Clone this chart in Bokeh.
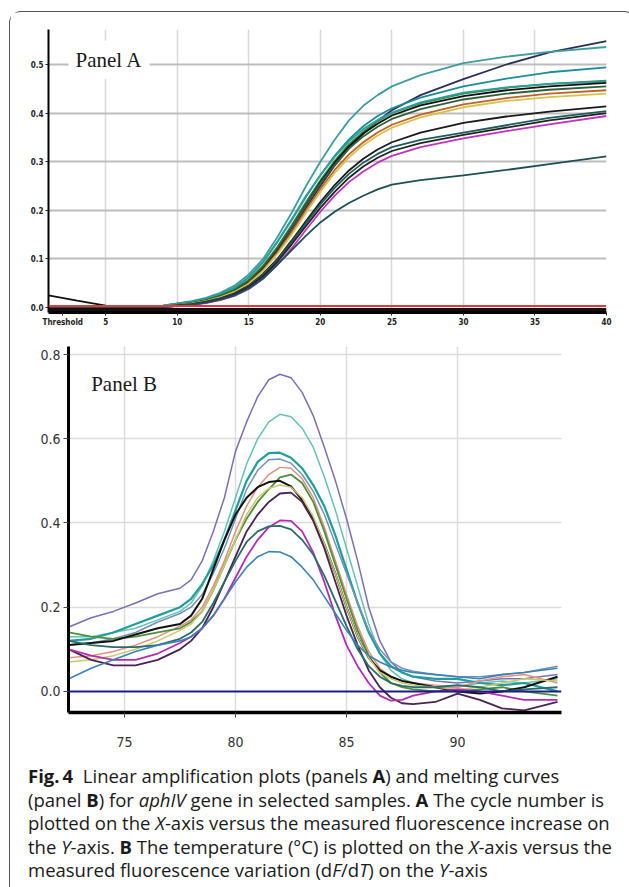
from bokeh.plotting import figure
from bokeh.models import Label, Div, FixedTicker, PrintfTickFormatter, Span
from bokeh.layouts import column
from bokeh.embed import file_html
from bokeh.resources import INLINE

# ---------------- Panel A data (cycle vs fluorescence) ----------------
cycles = [1, 3, 5, 7, 9, 11, 12, 13, 14, 15, 16, 17, 18, 19, 20, 21, 22, 23, 24, 25, 27, 30, 33, 36, 40]

a_navy    = [0.001, 0.0, -0.002, 0.0, 0.002, 0.008, 0.014, 0.022, 0.033, 0.05, 0.078, 0.115, 0.158, 0.205, 0.25, 0.292, 0.328, 0.358, 0.384, 0.406, 0.437, 0.47, 0.5, 0.525, 0.548]
a_teal1   = [0.0, 0.0, 0.0, 0.001, 0.004, 0.013, 0.02, 0.03, 0.045, 0.068, 0.1, 0.145, 0.195, 0.25, 0.3, 0.345, 0.385, 0.415, 0.437, 0.455, 0.478, 0.503, 0.516, 0.526, 0.536]
a_teal2   = [0.0, 0.0, 0.0, 0.001, 0.004, 0.012, 0.018, 0.027, 0.04, 0.062, 0.093, 0.135, 0.18, 0.228, 0.272, 0.312, 0.346, 0.373, 0.394, 0.41, 0.432, 0.455, 0.471, 0.484, 0.494]
a_green   = [0.0, 0.0, 0.0, 0.001, 0.003, 0.01, 0.016, 0.025, 0.037, 0.057, 0.086, 0.125, 0.17, 0.217, 0.262, 0.302, 0.336, 0.362, 0.383, 0.4, 0.42, 0.44, 0.452, 0.46, 0.467]
a_teal3   = [0.0, 0.0, 0.0, 0.001, 0.004, 0.012, 0.018, 0.028, 0.041, 0.063, 0.094, 0.136, 0.182, 0.23, 0.272, 0.31, 0.342, 0.367, 0.386, 0.401, 0.422, 0.442, 0.453, 0.46, 0.465]
a_black1  = [0.025, 0.014, 0.004, 0.0, 0.001, 0.008, 0.014, 0.022, 0.034, 0.053, 0.082, 0.12, 0.165, 0.212, 0.258, 0.298, 0.332, 0.358, 0.378, 0.395, 0.416, 0.435, 0.447, 0.455, 0.462]
a_dkgreen = [0.0, 0.0, 0.0, 0.0, 0.002, 0.009, 0.015, 0.024, 0.036, 0.055, 0.084, 0.122, 0.166, 0.212, 0.256, 0.294, 0.327, 0.352, 0.372, 0.388, 0.408, 0.428, 0.44, 0.448, 0.455]
a_orange  = [0.0, 0.0, 0.0, 0.0, 0.002, 0.008, 0.013, 0.021, 0.032, 0.05, 0.077, 0.113, 0.155, 0.2, 0.244, 0.283, 0.315, 0.34, 0.36, 0.376, 0.397, 0.418, 0.431, 0.44, 0.447]
a_yellow  = [0.0, 0.0, 0.0, 0.0, 0.002, 0.008, 0.013, 0.021, 0.032, 0.049, 0.075, 0.11, 0.15, 0.195, 0.238, 0.277, 0.309, 0.334, 0.354, 0.37, 0.391, 0.412, 0.425, 0.433, 0.44]
a_black2  = [0.0, 0.0, 0.0, 0.0, 0.002, 0.007, 0.012, 0.019, 0.029, 0.045, 0.069, 0.1, 0.138, 0.178, 0.217, 0.252, 0.282, 0.306, 0.325, 0.34, 0.36, 0.38, 0.393, 0.403, 0.414]
a_dkteal  = [0.0, 0.0, 0.0, 0.0, 0.002, 0.007, 0.011, 0.018, 0.028, 0.044, 0.067, 0.098, 0.135, 0.174, 0.212, 0.246, 0.275, 0.298, 0.316, 0.33, 0.345, 0.36, 0.375, 0.39, 0.404]
a_black3  = [0.0, 0.0, 0.0, 0.0, 0.001, 0.006, 0.01, 0.017, 0.027, 0.042, 0.064, 0.094, 0.13, 0.168, 0.205, 0.238, 0.267, 0.29, 0.308, 0.322, 0.338, 0.355, 0.37, 0.385, 0.40]
a_magenta = [0.0, 0.0, 0.0, 0.0, 0.001, 0.005, 0.009, 0.015, 0.024, 0.038, 0.059, 0.088, 0.122, 0.16, 0.197, 0.23, 0.258, 0.28, 0.298, 0.312, 0.33, 0.348, 0.363, 0.377, 0.394]
a_lowest  = [0.0, 0.0, 0.0, 0.0, 0.001, 0.006, 0.01, 0.016, 0.025, 0.039, 0.06, 0.088, 0.118, 0.148, 0.175, 0.197, 0.215, 0.23, 0.243, 0.253, 0.262, 0.272, 0.283, 0.295, 0.311]

a_series = [a_navy, a_teal1, a_teal2, a_green, a_teal3, a_black1, a_dkgreen, a_orange,
            a_yellow, a_black2, a_dkteal, a_black3, a_magenta, a_lowest]
a_colors = ["#2b2d5c", "#3f9e9b", "#1b8d99", "#3d8c3f", "#2a9f9f", "#111111", "#2f5f3a", "#c0622a",
            "#d8c24a", "#1a1a1a", "#1f5c5c", "#222222", "#c033c0", "#1d4f55"]

threshold_level = 0.003
negative_level = -0.004
a_xticks = [5, 10, 15, 20, 25, 30, 35, 40]
a_yticks = [0.0, 0.1, 0.2, 0.3, 0.4, 0.5]
threshold_tick = 2
threshold_text = "Threshold"

# ---------------- Panel B data (temperature vs dF/dT) ----------------
temps = [72.5, 73.5, 74.5, 75.5, 76.5, 77.5, 78, 78.5, 79, 79.5, 80, 80.5, 81, 81.5, 82, 82.5,
         83, 83.5, 84, 84.5, 85, 85.5, 86, 86.5, 87, 87.5, 88, 89, 90, 91, 92, 93, 94.5]

b_purple  = [0.153, 0.175, 0.19, 0.21, 0.232, 0.245, 0.265, 0.31, 0.38, 0.46, 0.57, 0.64, 0.70, 0.74, 0.753, 0.745,
             0.71, 0.655, 0.58, 0.50, 0.41, 0.31, 0.20, 0.12, 0.07, 0.045, 0.035, 0.025, 0.02, 0.025, 0.03, 0.03, 0.04]
b_ltteal  = [0.13, 0.13, 0.14, 0.15, 0.17, 0.19, 0.21, 0.25, 0.31, 0.38, 0.46, 0.54, 0.60, 0.64, 0.658, 0.652,
             0.625, 0.58, 0.51, 0.43, 0.34, 0.25, 0.16, 0.09, 0.05, 0.03, 0.02, 0.01, 0.01, 0.02, 0.025, 0.02, 0.03]
b_teal    = [0.12, 0.125, 0.14, 0.16, 0.18, 0.20, 0.22, 0.255, 0.30, 0.36, 0.43, 0.50, 0.545, 0.566, 0.567, 0.555,
             0.53, 0.49, 0.44, 0.37, 0.29, 0.21, 0.14, 0.09, 0.06, 0.045, 0.035, 0.03, 0.03, 0.02, 0.015, 0.02, 0.0]
b_grayblu = [0.11, 0.115, 0.125, 0.14, 0.165, 0.185, 0.20, 0.23, 0.28, 0.34, 0.41, 0.48, 0.525, 0.55, 0.552, 0.542,
             0.515, 0.475, 0.42, 0.35, 0.28, 0.21, 0.145, 0.10, 0.07, 0.055, 0.048, 0.04, 0.035, 0.035, 0.04, 0.045, 0.06]
b_salmon  = [0.08, 0.085, 0.095, 0.11, 0.13, 0.155, 0.17, 0.20, 0.25, 0.31, 0.38, 0.44, 0.485, 0.515, 0.532, 0.53,
             0.505, 0.46, 0.39, 0.31, 0.23, 0.155, 0.095, 0.055, 0.035, 0.025, 0.02, 0.015, 0.01, 0.025, 0.035, 0.04, 0.02]
b_green   = [0.14, 0.13, 0.125, 0.13, 0.14, 0.15, 0.165, 0.19, 0.24, 0.30, 0.36, 0.41, 0.45, 0.48, 0.508, 0.515,
             0.495, 0.45, 0.38, 0.30, 0.22, 0.145, 0.085, 0.045, 0.02, 0.01, 0.005, 0.0, 0.0, 0.005, 0.01, 0.0, -0.01]
b_black   = [0.11, 0.115, 0.12, 0.135, 0.15, 0.16, 0.18, 0.22, 0.29, 0.36, 0.42, 0.46, 0.485, 0.497, 0.50, 0.487,
             0.455, 0.41, 0.35, 0.28, 0.20, 0.13, 0.08, 0.05, 0.035, 0.025, 0.02, 0.01, 0.0, -0.005, 0.0, 0.01, 0.035]
b_yellow  = [0.07, 0.075, 0.085, 0.10, 0.12, 0.145, 0.16, 0.19, 0.24, 0.30, 0.36, 0.42, 0.46, 0.482, 0.49, 0.485,
             0.46, 0.415, 0.35, 0.28, 0.20, 0.13, 0.08, 0.045, 0.03, 0.02, 0.015, 0.01, 0.005, 0.01, 0.02, 0.03, 0.025]
b_dkpurp  = [0.10, 0.075, 0.062, 0.062, 0.075, 0.10, 0.12, 0.15, 0.20, 0.26, 0.32, 0.38, 0.42, 0.45, 0.47, 0.472,
             0.45, 0.405, 0.34, 0.26, 0.18, 0.11, 0.05, 0.01, -0.015, -0.028, -0.03, -0.025, -0.005, -0.02, -0.04, -0.045, -0.025]
b_magenta = [0.10, 0.085, 0.075, 0.075, 0.09, 0.115, 0.13, 0.15, 0.18, 0.22, 0.27, 0.32, 0.36, 0.39, 0.406, 0.405,
             0.38, 0.33, 0.26, 0.18, 0.11, 0.06, 0.02, -0.01, -0.022, -0.02, -0.01, 0.0, 0.005, 0.0, -0.01, -0.02, -0.02]
b_dkteal  = [0.12, 0.11, 0.105, 0.105, 0.11, 0.125, 0.14, 0.165, 0.21, 0.26, 0.31, 0.355, 0.38, 0.392, 0.393, 0.385,
             0.36, 0.325, 0.275, 0.215, 0.155, 0.10, 0.06, 0.035, 0.02, 0.013, 0.01, 0.01, 0.015, 0.01, 0.0, 0.005, 0.01]
b_blue    = [0.03, 0.055, 0.075, 0.095, 0.11, 0.12, 0.13, 0.15, 0.18, 0.22, 0.26, 0.295, 0.32, 0.332, 0.331, 0.32,
             0.295, 0.265, 0.225, 0.185, 0.145, 0.11, 0.085, 0.07, 0.058, 0.05, 0.045, 0.04, 0.035, 0.03, 0.04, 0.045, 0.055]

b_series = [b_purple, b_ltteal, b_teal, b_grayblu, b_salmon, b_green, b_black, b_yellow,
            b_dkpurp, b_magenta, b_dkteal, b_blue]
b_colors = ["#7b6fb5", "#66c2b5", "#1f9e9e", "#7392b3", "#e0937d", "#4e8f3a", "#111111", "#c9c86a",
            "#4b2352", "#b52bb5", "#2a6b6b", "#3a82b8"]
b_widths = [1.5, 1.5, 2.2, 1.5, 1.5, 1.8, 2.0, 1.5, 1.8, 1.8, 1.8, 1.6]
b_xticks = [75, 80, 85, 90]
b_yticks = [0.0, 0.2, 0.4, 0.6, 0.8]

# ---------------- Panel A figure ----------------
pA = figure(width=615, height=317, x_range=(1, 40), y_range=(-0.0103, 0.572),
            output_backend="svg", toolbar_location=None, frame_align=False,
            min_border_left=38, min_border_right=19, min_border_top=17, min_border_bottom=17)
pA.outline_line_color = None
pA.xaxis.ticker = FixedTicker(ticks=[threshold_tick] + a_xticks)
pA.xaxis.major_label_overrides = {threshold_tick: threshold_text}
pA.yaxis.ticker = FixedTicker(ticks=a_yticks)
pA.yaxis.formatter = PrintfTickFormatter(format="%.1f")
pA.xgrid.ticker = FixedTicker(ticks=a_xticks)
pA.ygrid.ticker = FixedTicker(ticks=a_yticks[1:])
pA.xgrid.grid_line_color = "#d8d8d8"
pA.xgrid.grid_line_width = 1.5
pA.ygrid.grid_line_color = "#bdbdbd"
pA.ygrid.grid_line_width = 2
for ax in (pA.xaxis[0], pA.yaxis[0]):
    ax.axis_line_color = "black"
    ax.major_tick_line_color = "#222222"
    ax.major_tick_out = 3
    ax.major_tick_in = 0
    ax.minor_tick_line_color = None
    ax.major_label_text_font = "DejaVu Sans Condensed"
    ax.major_label_text_font_style = "bold"
    ax.major_label_text_font_size = "8px"
    ax.major_label_text_color = "#222222"
    ax.major_label_standoff = 2
pA.yaxis.axis_line_width = 2
pA.xaxis.axis_line_width = 3

for ys, c in zip(a_series, a_colors):
    pA.line(cycles, ys, line_color=c, line_width=1.8)

pA.add_layout(Span(location=threshold_level, dimension="width", line_color="#e03a3a", line_width=2))
pA.add_layout(Span(location=negative_level, dimension="width", line_color="#111111", line_width=3))

pA.add_layout(Label(x=2.4, y=0.51, text="Panel A", text_font="Liberation Serif",
                    text_font_size="21px", text_color="#1a1a1a", text_baseline="middle",
                    background_fill_color="white", padding=7))

# ---------------- Panel B figure ----------------
pB = figure(width=615, height=420, x_range=(72.48, 94.68), y_range=(-0.05, 0.819),
            output_backend="svg", toolbar_location=None, frame_align=False,
            min_border_left=58, min_border_right=64, min_border_top=17, min_border_bottom=36)
pB.outline_line_color = None
pB.xaxis.ticker = FixedTicker(ticks=b_xticks)
pB.yaxis.ticker = FixedTicker(ticks=b_yticks)
pB.yaxis.formatter = PrintfTickFormatter(format="%.1f")
pB.xgrid.ticker = FixedTicker(ticks=b_xticks)
pB.ygrid.ticker = FixedTicker(ticks=b_yticks[1:])
pB.xgrid.grid_line_color = "#dcdcdc"
pB.ygrid.grid_line_color = "#dcdcdc"
pB.xgrid.grid_line_width = 1.5
pB.ygrid.grid_line_width = 1.5
for ax in (pB.xaxis[0], pB.yaxis[0]):
    ax.axis_line_color = "black"
    ax.major_tick_line_color = "#444444"
    ax.major_tick_out = 5
    ax.major_tick_in = 0
    ax.minor_tick_line_color = None
    ax.major_label_text_font = "DejaVu Sans Condensed"
    ax.major_label_text_font_size = "14px"
    ax.major_label_text_color = "#333333"
pB.yaxis.axis_line_width = 3
pB.xaxis.axis_line_width = 3.5
pB.yaxis.major_label_standoff = 3
pB.xaxis.major_label_standoff = 19

pB.add_layout(Span(location=0.0, dimension="width", line_color="#1c1c8a", line_width=2))
for ys, c, w in zip(b_series, b_colors, b_widths):
    pB.line(temps, ys, line_color=c, line_width=w)

pB.add_layout(Label(x=73.5, y=0.729, text="Panel B", text_font="Liberation Serif",
                    text_font_size="21px", text_color="#1a1a1a", text_baseline="middle"))

# ---------------- Caption ----------------
caption_html = (
    "<b>Fig.&#8201;4</b>&nbsp; Linear amplification plots (panels <b>A</b>) and melting curves<br>"
    "(panel <b>B</b>) for <i>aphIV</i> gene in selected samples. <b>A</b> The cycle number is<br>"
    "plotted on the <i>X</i>-axis versus the measured fluorescence increase on<br>"
    "the <i>Y</i>-axis. <b>B</b> The temperature (&deg;C) is plotted on the <i>X</i>-axis versus the<br>"
    "measured fluorescence variation (d<i>F</i>/d<i>T</i>) on the <i>Y</i>-axis"
)
cap = Div(text=caption_html, width=615, height=134,
          styles={"font-family": "'Open Sans', sans-serif", "font-size": "18.5px",
                  "line-height": "23.5px", "padding-left": "13px", "padding-top": "10px",
                  "color": "#1a1a1a", "white-space": "nowrap",
                  "box-sizing": "border-box"})

layout = column(pA, pB, cap,
                styles={"margin-top": "11px", "margin-left": "9px",
                        "border-top": "1px solid #555", "border-left": "1px solid #555",
                        "border-right": "1px solid #555", "border-radius": "12px 12px 0 0"})

open("out.html", "w").write(file_html(layout, INLINE))
